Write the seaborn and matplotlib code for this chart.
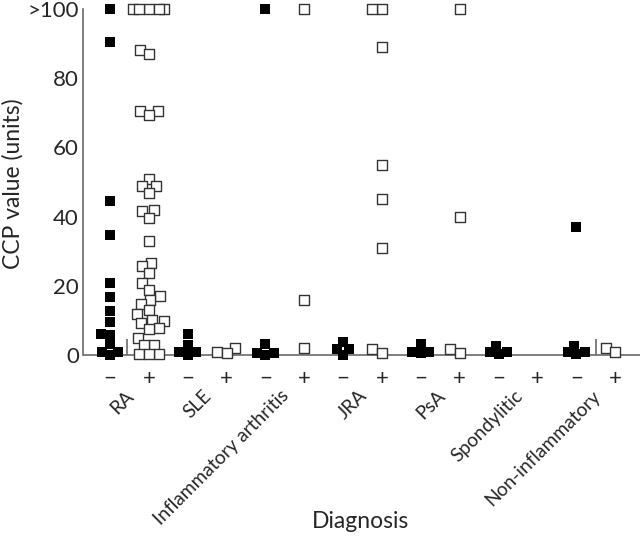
import matplotlib
matplotlib.use("Agg")
import matplotlib.pyplot as plt
from matplotlib.collections import PathCollection
import seaborn as sns
import pandas as pd
import warnings

warnings.filterwarnings("ignore")

# ---- data ----
groups = ["RA", "SLE", "Inflammatory arthritis", "JRA", "PsA", "Spondylitic", "Non-inflammatory"]
signs = ["\u2212", "+"]

ra_neg = [100, 90.5, 44.6, 34.6, 20.9, 16.7, 12.8, 9.6, 6.2, 5.8, 3.2, 1, 1, 0]
ra_pos = [100, 100, 100, 100, 100, 88.2, 86.9, 70.6, 70.6, 69.3, 50.9, 48.8, 48.8, 46.7,
          41.9, 41.6, 39.5, 32.8, 26.7, 25.8, 23.8, 20.9, 18.9, 16.9, 15.9, 14.7, 13.0, 11.8,
          10.1, 9.9, 9.3, 7.7, 7.4, 5.0, 2.8, 2.8, 0.3, 0.3, 0.3]
sle_neg = [6, 3, 0.8, 0.8, 0]
sle_pos = [2, 1, 0.5]
ia_neg = [100, 3.2, 0.6, 0.6, 0]
ia_pos = [100, 16, 2]
jra_neg = [3.8, 1.8, 1.8, 0]
jra_pos = [100, 100, 89, 55, 45, 31, 1.6, 0.7]
psa_neg = [3.2, 1, 1, 0.5]
psa_pos = [100, 40, 1.8, 0.7]
spond_neg = [2.6, 0.8, 0.8, 0.3]
spond_pos = []
noninf_neg = [37, 2.6, 0.8, 0.8, 0.3]
noninf_pos = [2, 0.8]

neg_values = [ra_neg, sle_neg, ia_neg, jra_neg, psa_neg, spond_neg, noninf_neg]
pos_values = [ra_pos, sle_pos, ia_pos, jra_pos, psa_pos, spond_pos, noninf_pos]

y_ticks = [0, 20, 40, 60, 80, 100]
y_tick_labels = ["0", "20", "40", "60", "80", ">100"]

# ---- build long-form tables ----
order = [f"{g} {s}" for g in groups for s in signs]
neg_rows = [(f"{g} {signs[0]}", v) for g, vals in zip(groups, neg_values) for v in vals]
pos_rows = [(f"{g} {signs[1]}", v) for g, vals in zip(groups, pos_values) for v in vals]
df_neg = pd.DataFrame(neg_rows, columns=["cat", "value"])
df_pos = pd.DataFrame(pos_rows, columns=["cat", "value"])

sns.set_style("white")
plt.rcParams["font.family"] = ["Lato", "DejaVu Sans"]

fig = plt.figure(figsize=(6.4, 5.42), dpi=100)
ax = fig.add_axes([83 / 640, 1 - 368.8 / 542, 1 - 83 / 640, (368.8 - 2.1) / 542])

grey = "#6a6a6a"
marker_size = 6.9     # drawn marker size (points)

# swarm layout sizes (collision sizes); squares are enlarged afterwards
sns.swarmplot(data=df_neg, x="cat", y="value", order=order, marker="s", color="black",
              size=6.0, linewidth=0, ax=ax, zorder=3)
sns.swarmplot(data=df_pos, x="cat", y="value", order=order, marker="s", color="white",
              edgecolor="#333333", linewidth=1.0, size=6.0, ax=ax, zorder=3)

ax.set_xlim(-0.695, 13.64)
ax.set_ylim(-4, 102)

for s in ["top", "right", "bottom"]:
    ax.spines[s].set_visible(False)
ax.spines["left"].set_bounds(0, 100)
ax.spines["left"].set_color(grey)
ax.spines["left"].set_linewidth(1.2)
ax.axhline(0, color=grey, lw=1.2, zorder=1)
ax.vlines([0.45, 12.5], 0, 4.5, color=grey, lw=1.2, zorder=1)

ax.set_yticks(y_ticks)
ax.set_yticklabels(y_tick_labels)
ax.tick_params(axis="y", direction="in", length=10, width=1.2, color=grey,
               labelsize=16, pad=3)
ax.set_xticks(range(len(order)))
ax.set_xticklabels([s for g in groups for s in signs])
ax.tick_params(axis="x", length=0, labelsize=16, pad=0)
ax.set_xlabel("")
ax.set_ylabel("")

for i, g in enumerate(groups):
    ax.text(2 * i + 0.7, -0.05, g, rotation=45, ha="right", va="top",
            fontsize=13.8, transform=ax.get_xaxis_transform())

fig.text(360 / 640, 1 - 522 / 542, "Diagnosis", ha="center", va="center", fontsize=16.5)
fig.text(13 / 640, 1 - 184 / 542, "CCP value (units)", ha="center", va="center",
         rotation=90, fontsize=16.5)

# let seaborn lay out the swarms, then freeze them and enlarge the squares
fig.canvas.draw()
for coll in ax.collections:
    if isinstance(coll, PathCollection):
        if "draw" in coll.__dict__:
            del coll.draw
        coll.set_sizes([marker_size ** 2])

fig.savefig("out.png", dpi=100)
